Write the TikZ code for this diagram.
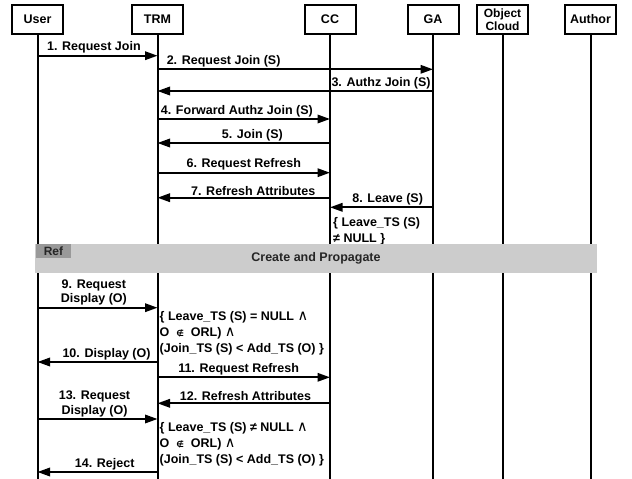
\documentclass[tikz,border=0pt]{standalone}
\usepackage{fontspec}
\setmainfont{Liberation Sans}
\newfontfamily\signfont{DejaVu Sans}
\usetikzlibrary{arrows.meta}

\tikzset{
  head/.style={draw, line width=2pt, fill=white, minimum width=51pt, minimum height=29pt,
    inner sep=1pt, align=center, font=\bfseries\fontsize{12.5}{14}\selectfont},
  life/.style={line width=2pt},
  msg/.style={line width=1.8pt, -{Triangle[length=12.5pt,width=8.5pt]}},
  lbl/.style={above, inner sep=1.5pt, align=center, font=\bfseries\fontsize{12.5}{14.3}\selectfont},
  cond/.style={anchor=north west, inner sep=0pt, align=left, font=\bfseries\fontsize{12.5}{16}\selectfont},
  refband/.style={fill=black!20, minimum width=562pt, minimum height=29pt, inner sep=0pt,
    text=black!85, font=\bfseries\fontsize{12.5}{14}\selectfont},
  reftag/.style={fill=black!40, minimum width=35pt, minimum height=14pt, inner sep=0pt,
    text=black!85, font=\bfseries\fontsize{12}{14}\selectfont},
}
\newcommand{\notorl}{{\signfont\fontsize{8.5}{10}\selectfont ∉}}
\newcommand{\andsign}{{\signfont\mdseries\fontsize{14.5}{16}\selectfont ∧}}

\begin{document}
\begin{tikzpicture}[x=1pt, y=-1pt]
\useasboundingbox (0,0) rectangle (632,479);

% lifeline heads
\node[head] (user) at (37.5,19.5) {User};
\node[head] (trm) at (157.5,19.5) {TRM};
\node[head] (cc) at (330,19.5) {CC};
\node[head] (ga) at (433,19.5) {GA};
\node[head, font=\bfseries\fontsize{12}{13.5}\selectfont] (ocloud) at (502.5,19.5) {Object\\Cloud};
\node[head] (author) at (590.5,19.5) {Author};

\foreach \n in {user,trm,cc,ga,ocloud,author}
  \draw[life] (\n.south) -- (\n |- 0,479);

% join phase
\draw[msg] (user |- 0,55.7) -- (trm |- 0,55.7) node[lbl, pos=0.47] {1. Request Join};
\draw[msg] (trm |- 0,69.3) -- (ga |- 0,69.3) node[lbl, pos=0.24] {2. Request Join (S)};
\draw[msg] (ga |- 0,91) -- (trm |- 0,91) node[lbl, pos=0, anchor=south east] {3. Authz Join (S)};
\draw[msg] (trm |- 0,119) -- (cc |- 0,119) node[lbl, pos=0.46] {4. Forward Authz Join (S)};
\draw[msg] (cc |- 0,143) -- (trm |- 0,143) node[lbl, pos=0.45] {5. Join (S)};
\draw[msg] (trm |- 0,172.7) -- (cc |- 0,172.7) node[lbl, pos=0.5] {6. Request Refresh};
\draw[msg] (cc |- 0,197.7) -- (trm |- 0,197.7) node[lbl, pos=0.445] {7. Refresh Attributes};
\draw[msg] (ga |- 0,207.3) -- (cc |- 0,207.3) node[lbl, pos=0.44] {8. Leave (S)};
\node[cond] (leave) at (333,217.4) {\{ Leave\_TS (S)\\≠ NULL \}};

% ref fragment
\node[refband] (ref) at (316,258.5) {Create and Propagate};
\node[reftag, anchor=north west] (reflbl) at ([xshift=1pt]ref.north west) {Ref};

% display phase
\draw[msg] (user |- 0,307.7) -- (trm |- 0,307.7) node[lbl, pos=0.47] {9. Request\\Display (O)};
\node[cond] (allow) at (159.5,311.4) {\{ Leave\_TS (S) = NULL \andsign\\O\ \ \notorl\ \ ORL) \andsign\\(Join\_TS (S) < Add\_TS (O) \}};
\draw[msg] (trm |- 0,362) -- (user |- 0,362) node[lbl, pos=0.425] {10. Display (O)};
\draw[msg] (trm |- 0,377.3) -- (cc |- 0,377.3) node[lbl, pos=0.47] {11. Request Refresh};
\draw[msg] (cc |- 0,403.3) -- (trm |- 0,403.3) node[lbl, pos=0.49] {12. Refresh Attributes};
\draw[msg] (user |- 0,419) -- (trm |- 0,419) node[lbl, pos=0.475] {13. Request\\Display (O)};
\node[cond] (deny) at (159.5,422.4) {\{ Leave\_TS (S) ≠ NULL \andsign\\O\ \ \notorl\ \ ORL) \andsign\\(Join\_TS (S) < Add\_TS (O) \}};
\draw[msg] (trm |- 0,472) -- (user |- 0,472) node[lbl, pos=0.44] {14. Reject};
\end{tikzpicture}
\end{document}
